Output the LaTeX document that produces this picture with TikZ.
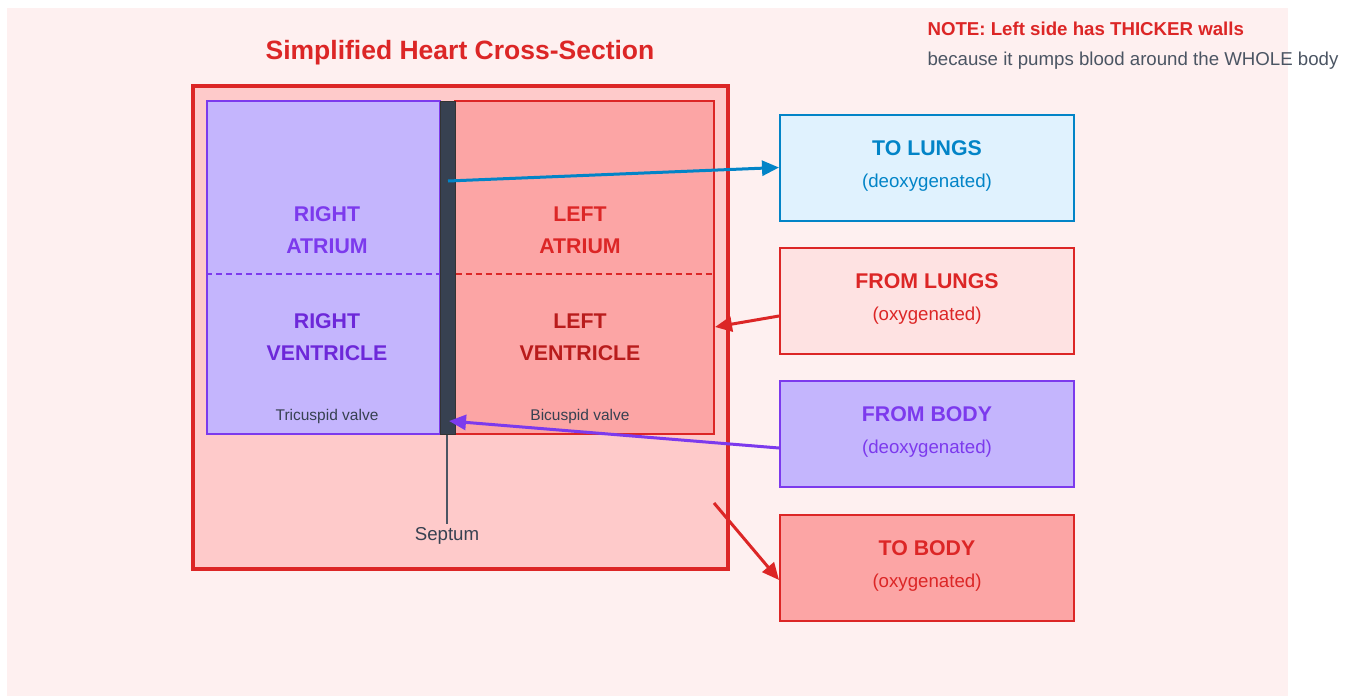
\documentclass[tikz,border=0pt]{standalone}
\usepackage{fontspec}
\setmainfont{Liberation Sans}
\usetikzlibrary{arrows.meta,positioning}

\definecolor{bgpink}{HTML}{FEF0F0}
\definecolor{wallpink}{HTML}{FECACA}
\definecolor{heartred}{HTML}{DC2626}
\definecolor{darkred}{HTML}{B91C1C}
\definecolor{lightred}{HTML}{FCA5A5}
\definecolor{palered}{HTML}{FEE2E2}
\definecolor{violetfill}{HTML}{C4B5FD}
\definecolor{violetline}{HTML}{7C3AED}
\definecolor{darkviolet}{HTML}{6D28D9}
\definecolor{septumgray}{HTML}{374151}
\definecolor{textgray}{HTML}{4B5563}
\definecolor{skyfill}{HTML}{E0F2FE}
\definecolor{skyline}{HTML}{0284C7}

\tikzset{
  chamber/.style={draw, line width=2pt, inner sep=0pt, minimum height=333pt},
  sidebox/.style={draw, line width=2pt, inner sep=0pt, minimum width=294pt, minimum height=106pt},
  boxtitle/.style={font=\fontsize{21.3}{24}\selectfont\bfseries},
  boxsub/.style={font=\fontsize{18.67}{22}\selectfont},
  roomlabel/.style={align=center, font=\fontsize{21.3}{32}\selectfont\bfseries},
  valvelabel/.style={text=septumgray, font=\fontsize{15.5}{18}\selectfont},
  flow/.style={line width=3pt, -{Triangle[length=17pt,width=15pt]}}
}

\begin{document}
\begin{tikzpicture}[x=1pt,y=-1pt]
  \useasboundingbox (0,0) rectangle (1352,696);
  % background
  \fill[bgpink] (7,8) rectangle (1288,696);

  % title and note
  \node[text=heartred, font=\fontsize{26.5}{30}\selectfont\bfseries] (title) at (460,53) {Simplified Heart Cross-Section};
  \node[anchor=west, text=heartred, font=\fontsize{18.67}{22}\selectfont\bfseries] (note) at (924,29) {NOTE: Left side has THICKER walls};
  \node[anchor=west, text=textgray, font=\fontsize{18.67}{22}\selectfont] (notetext) at (924,61) {because it pumps blood around the WHOLE body};

  % heart wall
  \node[draw=heartred, fill=wallpink, line width=4pt, inner sep=0pt,
        minimum width=535pt, minimum height=483pt] (heart) at (460.5,327.5) {};

  % two sides and septum
  \node[chamber, draw=violetline, fill=violetfill, minimum width=233pt] (rside) at (323.5,267.5) {};
  \node[chamber, draw=heartred, fill=lightred, minimum width=259pt] (lside) at (584.5,267.5) {};
  \node[draw=black!80, fill=septumgray, line width=1pt, inner sep=0pt,
        minimum width=15pt, minimum height=333pt] (septum) at (447.5,267.5) {};

  % atrium / ventricle borders
  \draw[violetline, line width=2.2pt, dash pattern=on 6pt off 4pt] (rside.west |- 0,274) -- (septum.west |- 0,274);
  \draw[heartred, line width=2.2pt, dash pattern=on 6pt off 4pt] (septum.east |- 0,274) -- (lside.east |- 0,274);

  % chamber labels
  \node[roomlabel, text=violetline] (ratrium) at (327,230) {RIGHT\\ATRIUM};
  \node[roomlabel, text=heartred] (latrium) at (580,230) {LEFT\\ATRIUM};
  \node[roomlabel, text=darkviolet] (rventricle) at (327,337) {RIGHT\\VENTRICLE};
  \node[roomlabel, text=darkred] (lventricle) at (580,337) {LEFT\\VENTRICLE};
  \node[valvelabel] (tricuspid) at (327,416) {Tricuspid valve};
  \node[valvelabel] (bicuspid) at (580,416) {Bicuspid valve};

  % septum label
  \node[text=septumgray, font=\fontsize{18.67}{22}\selectfont] (septumlabel) at (447,536) {Septum};
  \draw[textgray, line width=1.5pt] (septum.south -| 447,0) -- (septumlabel.north);

  % vessels
  \node[sidebox, draw=skyline, fill=skyfill] (tolungs) at (927,167.5) {};
  \node[sidebox, draw=heartred, fill=palered] (fromlungs) at (927,301) {};
  \node[sidebox, draw=violetline, fill=violetfill] (frombody) at (927,434) {};
  \node[sidebox, draw=heartred, fill=lightred] (tobody) at (927,568) {};

  \node[boxtitle, text=skyline] at ([yshift=19pt]tolungs.center) {TO LUNGS};
  \node[boxsub, text=skyline] at ([yshift=-15pt]tolungs.center) {(deoxygenated)};
  \node[boxtitle, text=heartred] at ([yshift=20pt]fromlungs.center) {FROM LUNGS};
  \node[boxsub, text=heartred] at ([yshift=-14.5pt]fromlungs.center) {(oxygenated)};
  \node[boxtitle, text=violetline] at ([yshift=20pt]frombody.center) {FROM BODY};
  \node[boxsub, text=violetline] at ([yshift=-14.5pt]frombody.center) {(deoxygenated)};
  \node[boxtitle, text=heartred] at ([yshift=20pt]tobody.center) {TO BODY};
  \node[boxsub, text=heartred] at ([yshift=-14.5pt]tobody.center) {(oxygenated)};

  % blood flow
  \coordinate (pulmout) at (448,181);
  \coordinate (venain) at (449,421);
  \coordinate (aortaout) at (714,503);
  \draw[flow, skyline] (pulmout) -- (tolungs.west);
  \draw[flow, heartred] ([yshift=-15pt]fromlungs.west) -- (lside.east |- 0,327);
  \draw[flow, violetline] ([yshift=-14pt]frombody.west) -- (venain);
  \draw[flow, heartred] (aortaout) -- ([yshift=-12pt]tobody.west);
\end{tikzpicture}
\end{document}
